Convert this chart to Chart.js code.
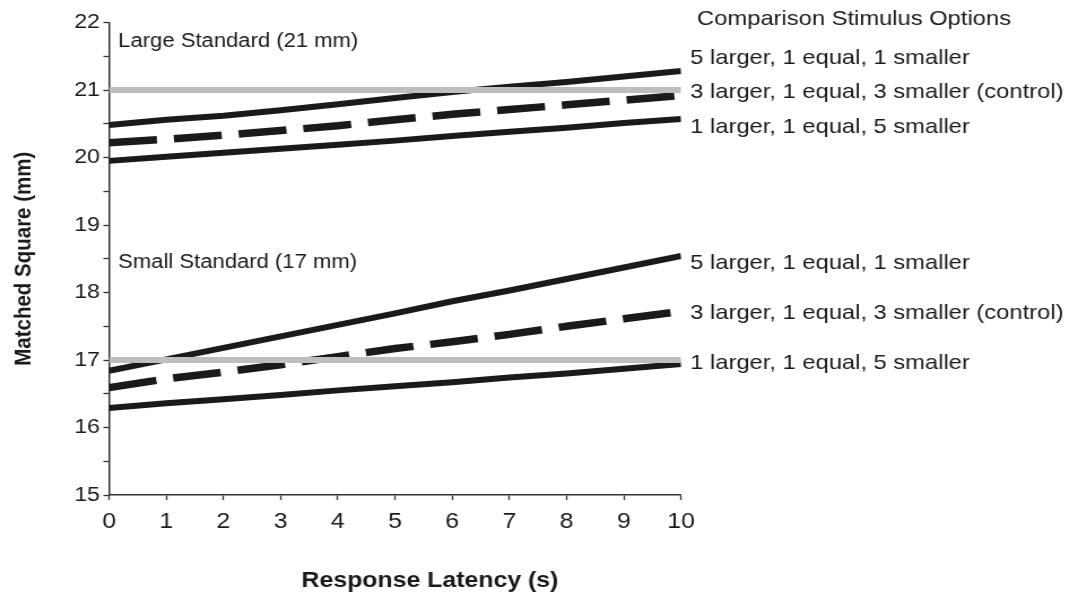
<!DOCTYPE html>
<html>
<head>
<meta charset="utf-8">
<script src="https://cdn.jsdelivr.net/npm/chart.js@4.4.1/dist/chart.umd.min.js"></script>
<style>
  html, body { margin: 0; padding: 0; background: #fff; overflow: hidden; }
  #wrap { width: 954px; height: 594px; transform: scaleX(1.13); transform-origin: 0 0; }
</style>
</head>
<body>
<div id="wrap"><canvas id="c" width="954" height="594"></canvas></div>
<script>
// ---- data ----
const latency = [0, 1, 2, 3, 4, 5, 6, 7, 8, 9, 10];
const large5L1E1S = [20.48, 20.56, 20.62, 20.70, 20.79, 20.88, 20.97, 21.05, 21.12, 21.20, 21.28];
const large3L1E3S = [20.22, 20.27, 20.33, 20.40, 20.47, 20.56, 20.64, 20.71, 20.78, 20.85, 20.92];
const large1L1E5S = [19.95, 20.01, 20.07, 20.13, 20.19, 20.25, 20.32, 20.38, 20.44, 20.51, 20.57];
const small5L1E1S = [16.84, 17.01, 17.18, 17.35, 17.52, 17.69, 17.87, 18.03, 18.20, 18.37, 18.54];
const small3L1E3S = [16.59, 16.72, 16.82, 16.93, 17.05, 17.17, 17.27, 17.38, 17.50, 17.61, 17.72];
const small1L1E5S = [16.29, 16.36, 16.42, 16.48, 16.55, 16.61, 16.67, 16.74, 16.80, 16.87, 16.94];
const standardX = [0, 10];
const largeStandard = [21, 21];
const smallStandard = [17, 17];
const optionLabels = ["5 larger, 1 equal, 1 smaller", "3 larger, 1 equal, 3 smaller (control)", "1 larger, 1 equal, 5 smaller"];
const groupLabels = ["Large Standard (21 mm)", "Small Standard (17 mm)"];
const legendTitle = "Comparison Stimulus Options";
const xTitle = "Response Latency (s)";
const yTitle = "Matched Square (mm)";

const pts = (xs, ys) => xs.map((x, i) => ({x: x, y: ys[i]}));
const INK = '#1a1a1a';
const GRAY = '#bcbec0';
const FONT = '"Liberation Sans", Arial, sans-serif';

function solid(ys) {
  return {data: pts(latency, ys), borderColor: INK, borderWidth: 6, pointRadius: 0, tension: 0, borderCapStyle: 'butt', borderJoinStyle: 'round'};
}
function dashed(ys) {
  return {data: pts(latency, ys), borderColor: INK, borderWidth: 7.5, borderDash: [42.5, 15], pointRadius: 0, tension: 0, borderCapStyle: 'butt'};
}
function standard(ys) {
  return {data: pts(standardX, ys), borderColor: GRAY, borderWidth: 6, pointRadius: 0, borderCapStyle: 'butt'};
}

const labelPlugin = {
  id: 'labels',
  afterDatasetsDraw(chart) {
    const {ctx, scales: {x, y}} = chart;
    ctx.save();
    ctx.fillStyle = INK;
    ctx.textBaseline = 'middle';
    ctx.textAlign = 'left';
    ctx.font = '21px ' + FONT;
    ctx.fillText(legendTitle, x.getPixelForValue(10.28), y.getPixelForValue(22.05));
    const largeY = [21.47, 20.97, 20.45];
    const smallY = [18.44, 17.70, 16.95];
    optionLabels.forEach((t, i) => {
      ctx.fillText(t, x.getPixelForValue(10.16), y.getPixelForValue(largeY[i]));
      ctx.fillText(t, x.getPixelForValue(10.16), y.getPixelForValue(smallY[i]));
    });
    ctx.font = '19.5px ' + FONT;
    ctx.fillText(groupLabels[0], x.getPixelForValue(0.16), y.getPixelForValue(21.71));
    ctx.fillText(groupLabels[1], x.getPixelForValue(0.16), y.getPixelForValue(18.44));
    ctx.font = 'bold 22px ' + FONT;
    ctx.textAlign = 'center';
    ctx.fillText(xTitle, x.getPixelForValue(5.61), y.getPixelForValue(13.73));
    ctx.restore();
  }
};

new Chart(document.getElementById('c'), {
  type: 'line',
  data: {
    datasets: [
      standard(largeStandard),
      standard(smallStandard),
      solid(large5L1E1S),
      dashed(large3L1E3S),
      solid(large1L1E5S),
      solid(small5L1E1S),
      dashed(small3L1E3S),
      solid(small1L1E5S)
    ]
  },
  options: {
    responsive: false,
    animation: false,
    devicePixelRatio: 1,
    layout: {padding: {top: 22.5, right: 351.3, left: 0, bottom: 0}},
    plugins: {legend: {display: false}, tooltip: {enabled: false}},
    scales: {
      x: {
        type: 'linear', min: 0, max: 10,
        afterFit: s => { s.height = 99; },
        border: {display: true, color: '#333', width: 1.5},
        grid: {drawOnChartArea: false, drawTicks: true, tickLength: 5, tickColor: '#333', tickWidth: 1.3},
        ticks: {stepSize: 1, color: INK, padding: 9, font: {family: FONT, size: 22}, maxRotation: 0, autoSkip: false}
      },
      y: {
        min: 15, max: 22,
        afterFit: s => { s.width = 96.5; },
        border: {display: true, color: '#333', width: 1.5},
        grid: {drawOnChartArea: false, drawTicks: true, tickLength: 5, tickColor: '#333', tickWidth: 1.3},
        ticks: {stepSize: 0.5, color: INK, padding: 3, autoSkip: false,
          font: {family: FONT, size: 20.5},
          callback: v => Number.isInteger(v) ? String(v) : ''},
        title: {display: true, text: yTitle, color: INK, padding: {top: 9, bottom: 0},
          font: {family: FONT, size: 20.5, weight: 'bold'}}
      }
    }
  },
  plugins: [labelPlugin]
});
</script>
</body>
</html>
